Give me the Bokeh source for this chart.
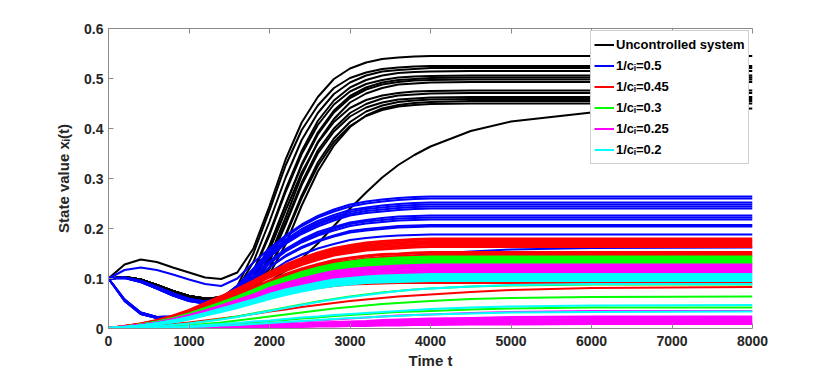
from bokeh.plotting import figure
from bokeh.models import (Range1d, LinearAxis, FixedTicker, NumeralTickFormatter,
                          Legend, LegendItem)
from bokeh.embed import file_html
from bokeh.resources import INLINE

# ---------------- data ----------------
time_t = [0, 200, 400, 600, 800, 1000, 1200, 1400, 1600, 1800, 2000, 2200, 2400,
          2600, 2800, 3000, 3200, 3400, 3600, 3800, 4000, 4500, 5000, 6000, 8000]

uncontrolled = [
    [0.100, 0.128, 0.138, 0.133, 0.122, 0.112, 0.102, 0.099, 0.112, 0.160, 0.245, 0.338, 0.412, 0.463, 0.499, 0.520, 0.532, 0.539, 0.542, 0.544, 0.545, 0.545, 0.545, 0.545, 0.545],
    [0.100, 0.103, 0.098, 0.087, 0.075, 0.065, 0.060, 0.062, 0.085, 0.150, 0.236, 0.326, 0.397, 0.446, 0.481, 0.501, 0.512, 0.519, 0.522, 0.524, 0.525, 0.525, 0.525, 0.525, 0.525],
    [0.100, 0.103, 0.098, 0.087, 0.075, 0.065, 0.060, 0.062, 0.080, 0.133, 0.214, 0.302, 0.377, 0.431, 0.469, 0.492, 0.506, 0.514, 0.517, 0.519, 0.521, 0.521, 0.521, 0.521, 0.521],
    [0.100, 0.103, 0.098, 0.087, 0.075, 0.065, 0.060, 0.062, 0.076, 0.115, 0.191, 0.278, 0.355, 0.415, 0.456, 0.482, 0.497, 0.506, 0.511, 0.513, 0.514, 0.515, 0.515, 0.515, 0.515],
    [0.100, 0.102, 0.096, 0.085, 0.073, 0.062, 0.057, 0.058, 0.074, 0.112, 0.187, 0.273, 0.349, 0.407, 0.448, 0.474, 0.489, 0.497, 0.502, 0.504, 0.505, 0.506, 0.506, 0.506, 0.506],
    [0.100, 0.103, 0.098, 0.087, 0.075, 0.065, 0.060, 0.062, 0.072, 0.102, 0.166, 0.248, 0.329, 0.392, 0.436, 0.465, 0.482, 0.492, 0.497, 0.499, 0.501, 0.502, 0.502, 0.502, 0.502],
    [0.100, 0.102, 0.096, 0.085, 0.073, 0.062, 0.057, 0.058, 0.070, 0.100, 0.164, 0.247, 0.326, 0.388, 0.432, 0.461, 0.478, 0.488, 0.493, 0.496, 0.497, 0.498, 0.498, 0.498, 0.498],
    [0.100, 0.103, 0.098, 0.087, 0.075, 0.065, 0.060, 0.062, 0.070, 0.092, 0.143, 0.222, 0.306, 0.373, 0.419, 0.452, 0.470, 0.481, 0.488, 0.490, 0.492, 0.493, 0.493, 0.493, 0.493],
    [0.100, 0.102, 0.096, 0.085, 0.073, 0.062, 0.057, 0.058, 0.069, 0.095, 0.157, 0.236, 0.312, 0.371, 0.413, 0.441, 0.457, 0.466, 0.471, 0.474, 0.475, 0.476, 0.476, 0.476, 0.476],
    [0.100, 0.103, 0.098, 0.087, 0.075, 0.065, 0.060, 0.062, 0.069, 0.088, 0.137, 0.212, 0.292, 0.356, 0.400, 0.431, 0.449, 0.460, 0.466, 0.468, 0.470, 0.471, 0.471, 0.471, 0.471],
    [0.100, 0.102, 0.096, 0.085, 0.073, 0.062, 0.057, 0.058, 0.067, 0.085, 0.134, 0.208, 0.287, 0.350, 0.394, 0.424, 0.442, 0.452, 0.458, 0.460, 0.462, 0.463, 0.463, 0.463, 0.463],
    [0.100, 0.103, 0.098, 0.087, 0.075, 0.065, 0.060, 0.062, 0.068, 0.082, 0.122, 0.188, 0.266, 0.332, 0.380, 0.413, 0.434, 0.446, 0.453, 0.456, 0.458, 0.459, 0.459, 0.459, 0.459],
    [0.100, 0.102, 0.096, 0.085, 0.073, 0.062, 0.057, 0.058, 0.065, 0.078, 0.109, 0.168, 0.246, 0.314, 0.366, 0.403, 0.426, 0.440, 0.447, 0.451, 0.453, 0.455, 0.455, 0.455, 0.455],
    [0.100, 0.103, 0.098, 0.087, 0.075, 0.065, 0.060, 0.062, 0.067, 0.080, 0.119, 0.185, 0.261, 0.325, 0.373, 0.405, 0.425, 0.437, 0.444, 0.447, 0.449, 0.450, 0.450, 0.450, 0.450],
    [0.100, 0.102, 0.096, 0.085, 0.073, 0.062, 0.057, 0.058, 0.066, 0.078, 0.095, 0.115, 0.140, 0.170, 0.205, 0.240, 0.272, 0.302, 0.327, 0.347, 0.364, 0.395, 0.414, 0.432, 0.440],
]

ci_050 = [
    [0.100, 0.117, 0.122, 0.117, 0.108, 0.098, 0.089, 0.085, 0.100, 0.132, 0.160, 0.186, 0.208, 0.225, 0.238, 0.248, 0.254, 0.258, 0.261, 0.263, 0.264, 0.264, 0.264, 0.264, 0.264],
    [0.100, 0.102, 0.095, 0.083, 0.070, 0.059, 0.054, 0.060, 0.086, 0.120, 0.156, 0.183, 0.205, 0.222, 0.234, 0.244, 0.250, 0.254, 0.257, 0.259, 0.260, 0.260, 0.260, 0.260, 0.260],
    [0.100, 0.101, 0.093, 0.080, 0.066, 0.055, 0.050, 0.057, 0.083, 0.116, 0.151, 0.178, 0.199, 0.215, 0.227, 0.237, 0.242, 0.246, 0.249, 0.251, 0.252, 0.252, 0.252, 0.252, 0.252],
    [0.100, 0.058, 0.032, 0.023, 0.024, 0.030, 0.040, 0.055, 0.080, 0.113, 0.148, 0.175, 0.195, 0.211, 0.223, 0.233, 0.239, 0.242, 0.245, 0.247, 0.248, 0.248, 0.248, 0.248, 0.248],
    [0.100, 0.102, 0.095, 0.083, 0.070, 0.059, 0.054, 0.060, 0.080, 0.112, 0.146, 0.172, 0.192, 0.208, 0.220, 0.229, 0.235, 0.238, 0.241, 0.243, 0.244, 0.244, 0.244, 0.244, 0.244],
    [0.100, 0.055, 0.029, 0.021, 0.022, 0.028, 0.038, 0.053, 0.078, 0.110, 0.143, 0.169, 0.189, 0.204, 0.216, 0.226, 0.231, 0.234, 0.237, 0.239, 0.240, 0.240, 0.240, 0.240, 0.240],
    [0.100, 0.101, 0.093, 0.080, 0.066, 0.055, 0.050, 0.057, 0.075, 0.104, 0.135, 0.159, 0.178, 0.193, 0.203, 0.212, 0.217, 0.221, 0.224, 0.225, 0.226, 0.226, 0.226, 0.226, 0.226],
    [0.100, 0.058, 0.032, 0.023, 0.024, 0.030, 0.040, 0.055, 0.073, 0.102, 0.133, 0.157, 0.175, 0.189, 0.200, 0.209, 0.214, 0.217, 0.220, 0.221, 0.222, 0.222, 0.222, 0.222, 0.222],
    [0.100, 0.102, 0.095, 0.083, 0.070, 0.059, 0.054, 0.060, 0.072, 0.100, 0.130, 0.154, 0.172, 0.186, 0.196, 0.205, 0.210, 0.213, 0.216, 0.217, 0.218, 0.218, 0.218, 0.218, 0.218],
    [0.100, 0.055, 0.029, 0.021, 0.022, 0.028, 0.038, 0.053, 0.069, 0.095, 0.123, 0.146, 0.163, 0.176, 0.186, 0.195, 0.199, 0.202, 0.205, 0.206, 0.207, 0.207, 0.207, 0.207, 0.207],
    [0.100, 0.101, 0.093, 0.080, 0.066, 0.055, 0.050, 0.057, 0.068, 0.094, 0.122, 0.144, 0.161, 0.174, 0.184, 0.192, 0.196, 0.199, 0.202, 0.203, 0.204, 0.204, 0.204, 0.204, 0.204],
    [0.100, 0.058, 0.032, 0.023, 0.024, 0.030, 0.040, 0.055, 0.064, 0.087, 0.112, 0.133, 0.148, 0.160, 0.169, 0.177, 0.181, 0.184, 0.186, 0.187, 0.188, 0.188, 0.188, 0.188, 0.188],
    [0.100, 0.055, 0.029, 0.021, 0.022, 0.026, 0.032, 0.040, 0.050, 0.060, 0.071, 0.082, 0.093, 0.103, 0.113, 0.122, 0.130, 0.137, 0.142, 0.146, 0.149, 0.154, 0.158, 0.161, 0.162],
]

# controlled groups: dense bands first, then the separate thin curves
ci_045_band = [
    [0.0, 0.004, 0.009, 0.016, 0.025, 0.036, 0.050, 0.064, 0.079, 0.095, 0.112, 0.127, 0.140, 0.151, 0.160, 0.166, 0.171, 0.174, 0.176, 0.178, 0.179, 0.179, 0.179, 0.179, 0.179],
    [0.0, 0.004, 0.009, 0.015, 0.024, 0.035, 0.049, 0.062, 0.077, 0.092, 0.109, 0.123, 0.136, 0.147, 0.156, 0.161, 0.166, 0.169, 0.171, 0.173, 0.174, 0.174, 0.174, 0.174, 0.174],
    [0.0, 0.004, 0.008, 0.015, 0.024, 0.034, 0.047, 0.060, 0.075, 0.090, 0.106, 0.120, 0.132, 0.143, 0.151, 0.157, 0.161, 0.164, 0.166, 0.168, 0.169, 0.169, 0.169, 0.169, 0.169],
    [0.0, 0.004, 0.008, 0.015, 0.023, 0.033, 0.046, 0.059, 0.072, 0.087, 0.103, 0.116, 0.128, 0.138, 0.147, 0.152, 0.157, 0.159, 0.161, 0.163, 0.164, 0.164, 0.164, 0.164, 0.164],
    [0.0, 0.003, 0.008, 0.014, 0.021, 0.031, 0.042, 0.054, 0.067, 0.081, 0.095, 0.108, 0.119, 0.128, 0.136, 0.141, 0.145, 0.148, 0.149, 0.151, 0.152, 0.152, 0.152, 0.152, 0.152],
    [0.0, 0.003, 0.007, 0.013, 0.020, 0.029, 0.041, 0.052, 0.064, 0.078, 0.091, 0.104, 0.114, 0.123, 0.131, 0.135, 0.139, 0.142, 0.144, 0.145, 0.146, 0.146, 0.146, 0.146, 0.146],
]
ci_045_thin = [
    [0.0, 0.002, 0.005, 0.009, 0.014, 0.020, 0.027, 0.035, 0.043, 0.052, 0.061, 0.069, 0.076, 0.081, 0.085, 0.088, 0.089, 0.090, 0.091, 0.091, 0.091, 0.091, 0.091, 0.091, 0.091],
    [0.0, 0.001, 0.003, 0.006, 0.009, 0.012, 0.016, 0.020, 0.024, 0.029, 0.034, 0.038, 0.043, 0.047, 0.051, 0.055, 0.058, 0.061, 0.064, 0.066, 0.068, 0.073, 0.077, 0.081, 0.083],
]

ci_030_band = [
    [0.0, 0.003, 0.007, 0.013, 0.020, 0.029, 0.040, 0.051, 0.063, 0.076, 0.090, 0.101, 0.112, 0.121, 0.128, 0.133, 0.137, 0.139, 0.141, 0.142, 0.143, 0.143, 0.143, 0.143, 0.143],
    [0.0, 0.003, 0.007, 0.012, 0.019, 0.028, 0.039, 0.049, 0.061, 0.073, 0.086, 0.098, 0.108, 0.116, 0.123, 0.128, 0.132, 0.134, 0.136, 0.137, 0.138, 0.138, 0.138, 0.138, 0.138],
    [0.0, 0.003, 0.007, 0.012, 0.019, 0.027, 0.037, 0.048, 0.059, 0.071, 0.083, 0.094, 0.104, 0.112, 0.119, 0.123, 0.127, 0.129, 0.131, 0.132, 0.133, 0.133, 0.133, 0.133, 0.133],
    [0.0, 0.003, 0.006, 0.011, 0.018, 0.026, 0.036, 0.046, 0.057, 0.068, 0.081, 0.091, 0.101, 0.109, 0.115, 0.120, 0.123, 0.125, 0.127, 0.128, 0.129, 0.129, 0.129, 0.129, 0.129],
]
ci_030_thin = [
    [0.0, 0.001, 0.002, 0.004, 0.007, 0.010, 0.014, 0.019, 0.024, 0.030, 0.036, 0.042, 0.048, 0.054, 0.059, 0.064, 0.068, 0.072, 0.075, 0.078, 0.080, 0.084, 0.086, 0.088, 0.088],
    [0.0, 0.001, 0.001, 0.003, 0.004, 0.006, 0.009, 0.012, 0.016, 0.020, 0.024, 0.028, 0.032, 0.036, 0.040, 0.043, 0.046, 0.049, 0.051, 0.053, 0.055, 0.059, 0.061, 0.063, 0.064],
    [0.0, 0.000, 0.001, 0.002, 0.003, 0.004, 0.006, 0.008, 0.010, 0.012, 0.015, 0.017, 0.020, 0.022, 0.025, 0.027, 0.029, 0.031, 0.033, 0.034, 0.035, 0.038, 0.040, 0.042, 0.042],
]

ci_025_band = [
    [0.0, 0.003, 0.006, 0.011, 0.018, 0.026, 0.035, 0.045, 0.056, 0.067, 0.080, 0.090, 0.099, 0.107, 0.114, 0.118, 0.121, 0.123, 0.125, 0.126, 0.127, 0.127, 0.127, 0.127, 0.127],
    [0.0, 0.003, 0.006, 0.011, 0.017, 0.025, 0.034, 0.044, 0.054, 0.065, 0.076, 0.087, 0.095, 0.103, 0.109, 0.113, 0.117, 0.119, 0.120, 0.121, 0.122, 0.122, 0.122, 0.122, 0.122],
    [0.0, 0.003, 0.006, 0.010, 0.016, 0.024, 0.033, 0.042, 0.052, 0.062, 0.073, 0.083, 0.091, 0.099, 0.105, 0.108, 0.112, 0.114, 0.115, 0.116, 0.117, 0.117, 0.117, 0.117, 0.117],
    [0.0, 0.002, 0.006, 0.010, 0.016, 0.023, 0.031, 0.040, 0.049, 0.059, 0.070, 0.079, 0.088, 0.095, 0.100, 0.104, 0.107, 0.109, 0.110, 0.111, 0.112, 0.112, 0.112, 0.112, 0.112],
    [0.0, 0.000, 0.000, 0.001, 0.001, 0.002, 0.003, 0.004, 0.005, 0.006, 0.007, 0.008, 0.009, 0.011, 0.012, 0.013, 0.014, 0.016, 0.017, 0.018, 0.019, 0.020, 0.022, 0.023, 0.023],
    [0.0, 0.000, 0.000, 0.001, 0.001, 0.001, 0.002, 0.003, 0.004, 0.005, 0.006, 0.007, 0.008, 0.009, 0.010, 0.011, 0.012, 0.013, 0.014, 0.014, 0.015, 0.016, 0.017, 0.018, 0.018],
    [0.0, 0.000, 0.000, 0.000, 0.001, 0.001, 0.002, 0.002, 0.003, 0.003, 0.004, 0.005, 0.005, 0.006, 0.007, 0.008, 0.008, 0.009, 0.010, 0.010, 0.011, 0.012, 0.012, 0.013, 0.013],
    [0.0, 0.000, 0.000, 0.000, 0.000, 0.001, 0.001, 0.002, 0.002, 0.003, 0.003, 0.004, 0.004, 0.005, 0.005, 0.006, 0.006, 0.007, 0.007, 0.008, 0.008, 0.009, 0.009, 0.010, 0.010],
]
ci_025_thin = [
    [0.0, 0.000, 0.001, 0.001, 0.002, 0.003, 0.004, 0.005, 0.007, 0.008, 0.010, 0.012, 0.014, 0.016, 0.018, 0.020, 0.022, 0.024, 0.026, 0.027, 0.028, 0.031, 0.033, 0.035, 0.035],
]

ci_020_band = [
    [0.0, 0.002, 0.005, 0.010, 0.015, 0.022, 0.030, 0.039, 0.048, 0.057, 0.068, 0.077, 0.084, 0.091, 0.097, 0.100, 0.103, 0.105, 0.106, 0.107, 0.108, 0.108, 0.108, 0.108, 0.108],
    [0.0, 0.002, 0.005, 0.009, 0.015, 0.021, 0.029, 0.037, 0.046, 0.055, 0.065, 0.074, 0.081, 0.088, 0.093, 0.096, 0.099, 0.101, 0.102, 0.103, 0.104, 0.104, 0.104, 0.104, 0.104],
    [0.0, 0.002, 0.005, 0.009, 0.014, 0.020, 0.028, 0.036, 0.044, 0.053, 0.063, 0.071, 0.078, 0.084, 0.089, 0.093, 0.096, 0.097, 0.098, 0.099, 0.100, 0.100, 0.100, 0.100, 0.100],
    [0.0, 0.002, 0.005, 0.009, 0.013, 0.019, 0.027, 0.034, 0.042, 0.051, 0.060, 0.068, 0.075, 0.081, 0.086, 0.089, 0.092, 0.093, 0.094, 0.095, 0.096, 0.096, 0.096, 0.096, 0.096],
]
ci_020_thin = [
    [0.0, 0.001, 0.002, 0.004, 0.007, 0.010, 0.014, 0.018, 0.023, 0.029, 0.035, 0.041, 0.047, 0.053, 0.058, 0.063, 0.067, 0.071, 0.075, 0.078, 0.080, 0.084, 0.087, 0.089, 0.089],
    [0.0, 0.000, 0.001, 0.002, 0.003, 0.005, 0.007, 0.009, 0.011, 0.014, 0.016, 0.019, 0.022, 0.024, 0.027, 0.029, 0.031, 0.033, 0.035, 0.037, 0.039, 0.042, 0.044, 0.046, 0.047],
    [0.0, 0.000, 0.001, 0.001, 0.002, 0.003, 0.004, 0.006, 0.007, 0.009, 0.011, 0.013, 0.015, 0.017, 0.019, 0.021, 0.022, 0.024, 0.025, 0.027, 0.028, 0.030, 0.032, 0.033, 0.034],
]

series_labels = ["Uncontrolled system", "1/c\u1d62=0.5", "1/c\u1d62=0.45",
                 "1/c\u1d62=0.3", "1/c\u1d62=0.25", "1/c\u1d62=0.2"]
series_colors = ["#000000", "#0000ff", "#ff0000", "#00ff00", "#ff00ff", "#00ffff"]
series_thin = [uncontrolled, ci_050, ci_045_thin, ci_030_thin, ci_025_thin, ci_020_thin]
series_band = [[], [], ci_045_band, ci_030_band, ci_025_band, ci_020_band]

x_ticks = [0, 1000, 2000, 3000, 4000, 5000, 6000, 7000, 8000]
y_ticks = [0, 0.1, 0.2, 0.3, 0.4, 0.5, 0.6]

# ---------------- figure ----------------
FONT = "Liberation Sans"
AXIS_GRAY = "#8a8a8a"
TEXT = "#262626"

p = figure(width=822, height=371, output_backend="svg", toolbar_location=None,
           x_range=Range1d(0, 8000), y_range=Range1d(0, 0.6),
           min_border_left=108, min_border_right=70, min_border_top=28, min_border_bottom=43,
           x_axis_label="Time t", y_axis_label="State value x\u1d62(t)")
p.outline_line_color = None
p.grid.visible = False
p.background_fill_color = "white"
p.border_fill_color = "white"

for ax, ticks in ((p.xaxis[0], x_ticks), (p.yaxis[0], y_ticks)):
    ax.ticker = FixedTicker(ticks=ticks)
    ax.major_tick_in = 5
    ax.major_tick_out = 0
    ax.minor_tick_line_color = None
    ax.axis_line_color = AXIS_GRAY
    ax.major_tick_line_color = AXIS_GRAY
    ax.major_label_text_font = FONT
    ax.major_label_text_font_style = "bold"
    ax.major_label_text_font_size = "14px"
    ax.major_label_text_color = TEXT
    ax.axis_label_text_font = FONT
    ax.axis_label_text_font_style = "bold"
    ax.axis_label_text_font_size = "15px"
    ax.axis_label_text_color = TEXT

p.xaxis[0].formatter = NumeralTickFormatter(format="0")
p.yaxis[0].formatter = NumeralTickFormatter(format="0.[0]")
p.xaxis[0].major_label_standoff = 7
p.xaxis[0].axis_label_standoff = 3
p.yaxis[0].major_label_standoff = 5
p.yaxis[0].axis_label_standoff = 9

top_axis = LinearAxis(ticker=FixedTicker(ticks=x_ticks), major_tick_in=5, major_tick_out=0,
                      minor_tick_line_color=None, axis_line_color=AXIS_GRAY,
                      major_tick_line_color=AXIS_GRAY, major_label_text_font_size="10px",
                      major_label_text_color=None, major_label_standoff=0)
p.add_layout(top_axis, "above")

legend_renderers = []
for thin, band, color in zip(series_thin, series_band, series_colors):
    if band:
        p.multi_line(xs=[time_t] * len(band), ys=band, line_color=color,
                     line_width=3, line_join="round")
    r = p.multi_line(xs=[time_t] * len(thin), ys=thin, line_color=color,
                     line_width=2, line_join="round")
    legend_renderers.append(r)

legend = Legend(items=[LegendItem(label=lab, renderers=[r]) for lab, r in zip(series_labels, legend_renderers)],
                location=(482, 164), padding=3, spacing=0, margin=0,
                glyph_width=20, glyph_height=21, label_height=21, label_standoff=2,
                label_text_font=FONT, label_text_font_style="bold",
                label_text_font_size="13px", label_text_color="#000000",
                background_fill_color="white", background_fill_alpha=1.0,
                border_line_color="#a0a0a0", border_line_width=1)
p.add_layout(legend)

open("out.html", "w").write(file_html(p, INLINE))
